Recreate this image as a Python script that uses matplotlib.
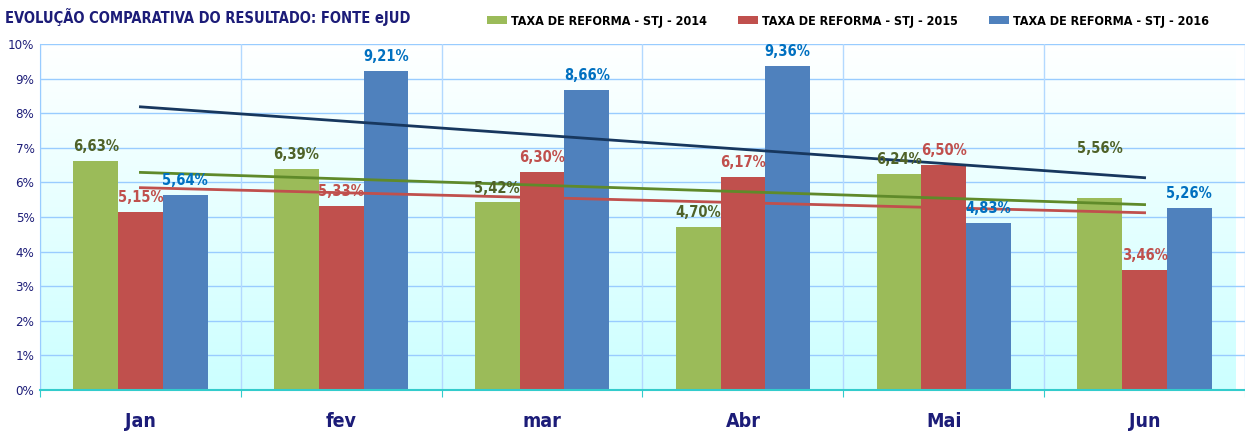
import matplotlib.pyplot as plt
import numpy as np

months = ["Jan", "fev", "mar", "Abr", "Mai", "Jun"]
series = ["TAXA DE REFORMA - STJ - 2014", "TAXA DE REFORMA - STJ - 2015", "TAXA DE REFORMA - STJ - 2016"]
taxa_2014 = [6.63, 6.39, 5.42, 4.70, 6.24, 5.56]
taxa_2015 = [5.15, 5.33, 6.30, 6.17, 6.50, 3.46]
taxa_2016 = [5.64, 9.21, 8.66, 9.36, 4.83, 5.26]
yticks = [0, 1, 2, 3, 4, 5, 6, 7, 8, 9, 10]

bar_colors = ['#9bbb59', '#c0504d', '#4f81bd']
label_colors = ['#4f6228', '#c0504d', '#0070c0']
trend_colors = ['#5f8a2a', '#c0504d', '#17375e']
navy = '#1c1c78'
cond = dict(family='DejaVu Sans', stretch='condensed')

fig = plt.figure(figsize=(12.45, 4.34), dpi=100)
ax = fig.add_axes([40/1245, 44/434, 1205/1245, 346/434])

x = np.arange(len(months))
width = 0.223
xmin, xmax = -0.5, -0.5 + 1205/202.4

# gradient background
grad = np.linspace(0, 1, 256).reshape(-1, 1)
top = np.array([1.0, 1.0, 1.0])
bot = np.array([0.80, 1.0, 1.0])
img = top + (bot - top) * grad[..., None]
ax.imshow(img, extent=[xmin, xmax, 0, 10], aspect='auto', origin='upper', zorder=0)

for yv in yticks:
    ax.axhline(yv, color='#99ccff', lw=1, zorder=1)
for xv in np.arange(-0.5, 5.6, 1.0):
    ax.axvline(xv, color='#b3d9ff', lw=1, zorder=1)

data = [taxa_2014, taxa_2015, taxa_2016]
for i, vals in enumerate(data):
    pos = x + (i - 1) * width
    bars = ax.bar(pos, vals, width, color=bar_colors[i], label=series[i], zorder=2)
    for j, b in enumerate(bars):
        h = b.get_height()
        dy = 5
        if i == 0 and j == 5:
            dy = 30
        ax.annotate(f'{h:.2f}%'.replace('.', ','), xy=(b.get_x() + b.get_width()/2, h),
                    xytext=(0, dy), textcoords='offset points', ha='center', va='bottom',
                    fontsize=10.5, fontweight='bold', color=label_colors[i], zorder=5, **cond)
    # linear trend line
    k, c = np.polyfit(x, vals, 1)
    ax.plot(x, k * x + c, color=trend_colors[i], lw=2, zorder=4)

ax.set_xlim(xmin, xmax)
ax.set_ylim(0, 10)
ax.set_yticks(yticks)
ax.set_yticklabels([f'{v}%' for v in yticks], color=navy, fontsize=9.5, **cond)
ax.tick_params(axis='y', length=0, pad=4)
ax.set_xticks(np.arange(-0.5, 5.6, 1.0))
ax.set_xticklabels([])
ax.tick_params(axis='x', length=5, color='#33cccc', direction='out')
for m, xv in zip(months, x):
    ax.text(xv, -0.9, m, ha='center', va='center', fontsize=14, fontweight='bold',
            color=navy, clip_on=False, **cond)

for s in ['top', 'right']:
    ax.spines[s].set_visible(False)
ax.spines['left'].set_color('#99ccff')
ax.spines['bottom'].set_color('#33cccc')
ax.spines['bottom'].set_linewidth(1.5)

fig.text(5/1245, 1 - 17/434, 'EVOLUÇÃO COMPARATIVA DO RESULTADO: FONTE eJUD', fontsize=10.5,
         color=navy, va='center', ha='left', fontweight='bold', **cond)

fig.legend(loc='center left', bbox_to_anchor=(476/1245, 1 - 21/434), ncol=3, frameon=False,
           handlelength=1.6, handleheight=0.55, handletextpad=0.3, columnspacing=2.5,
           prop={'family': 'DejaVu Sans', 'stretch': 'condensed', 'weight': 'bold', 'size': 9})

fig.savefig('out.png', dpi=100)
